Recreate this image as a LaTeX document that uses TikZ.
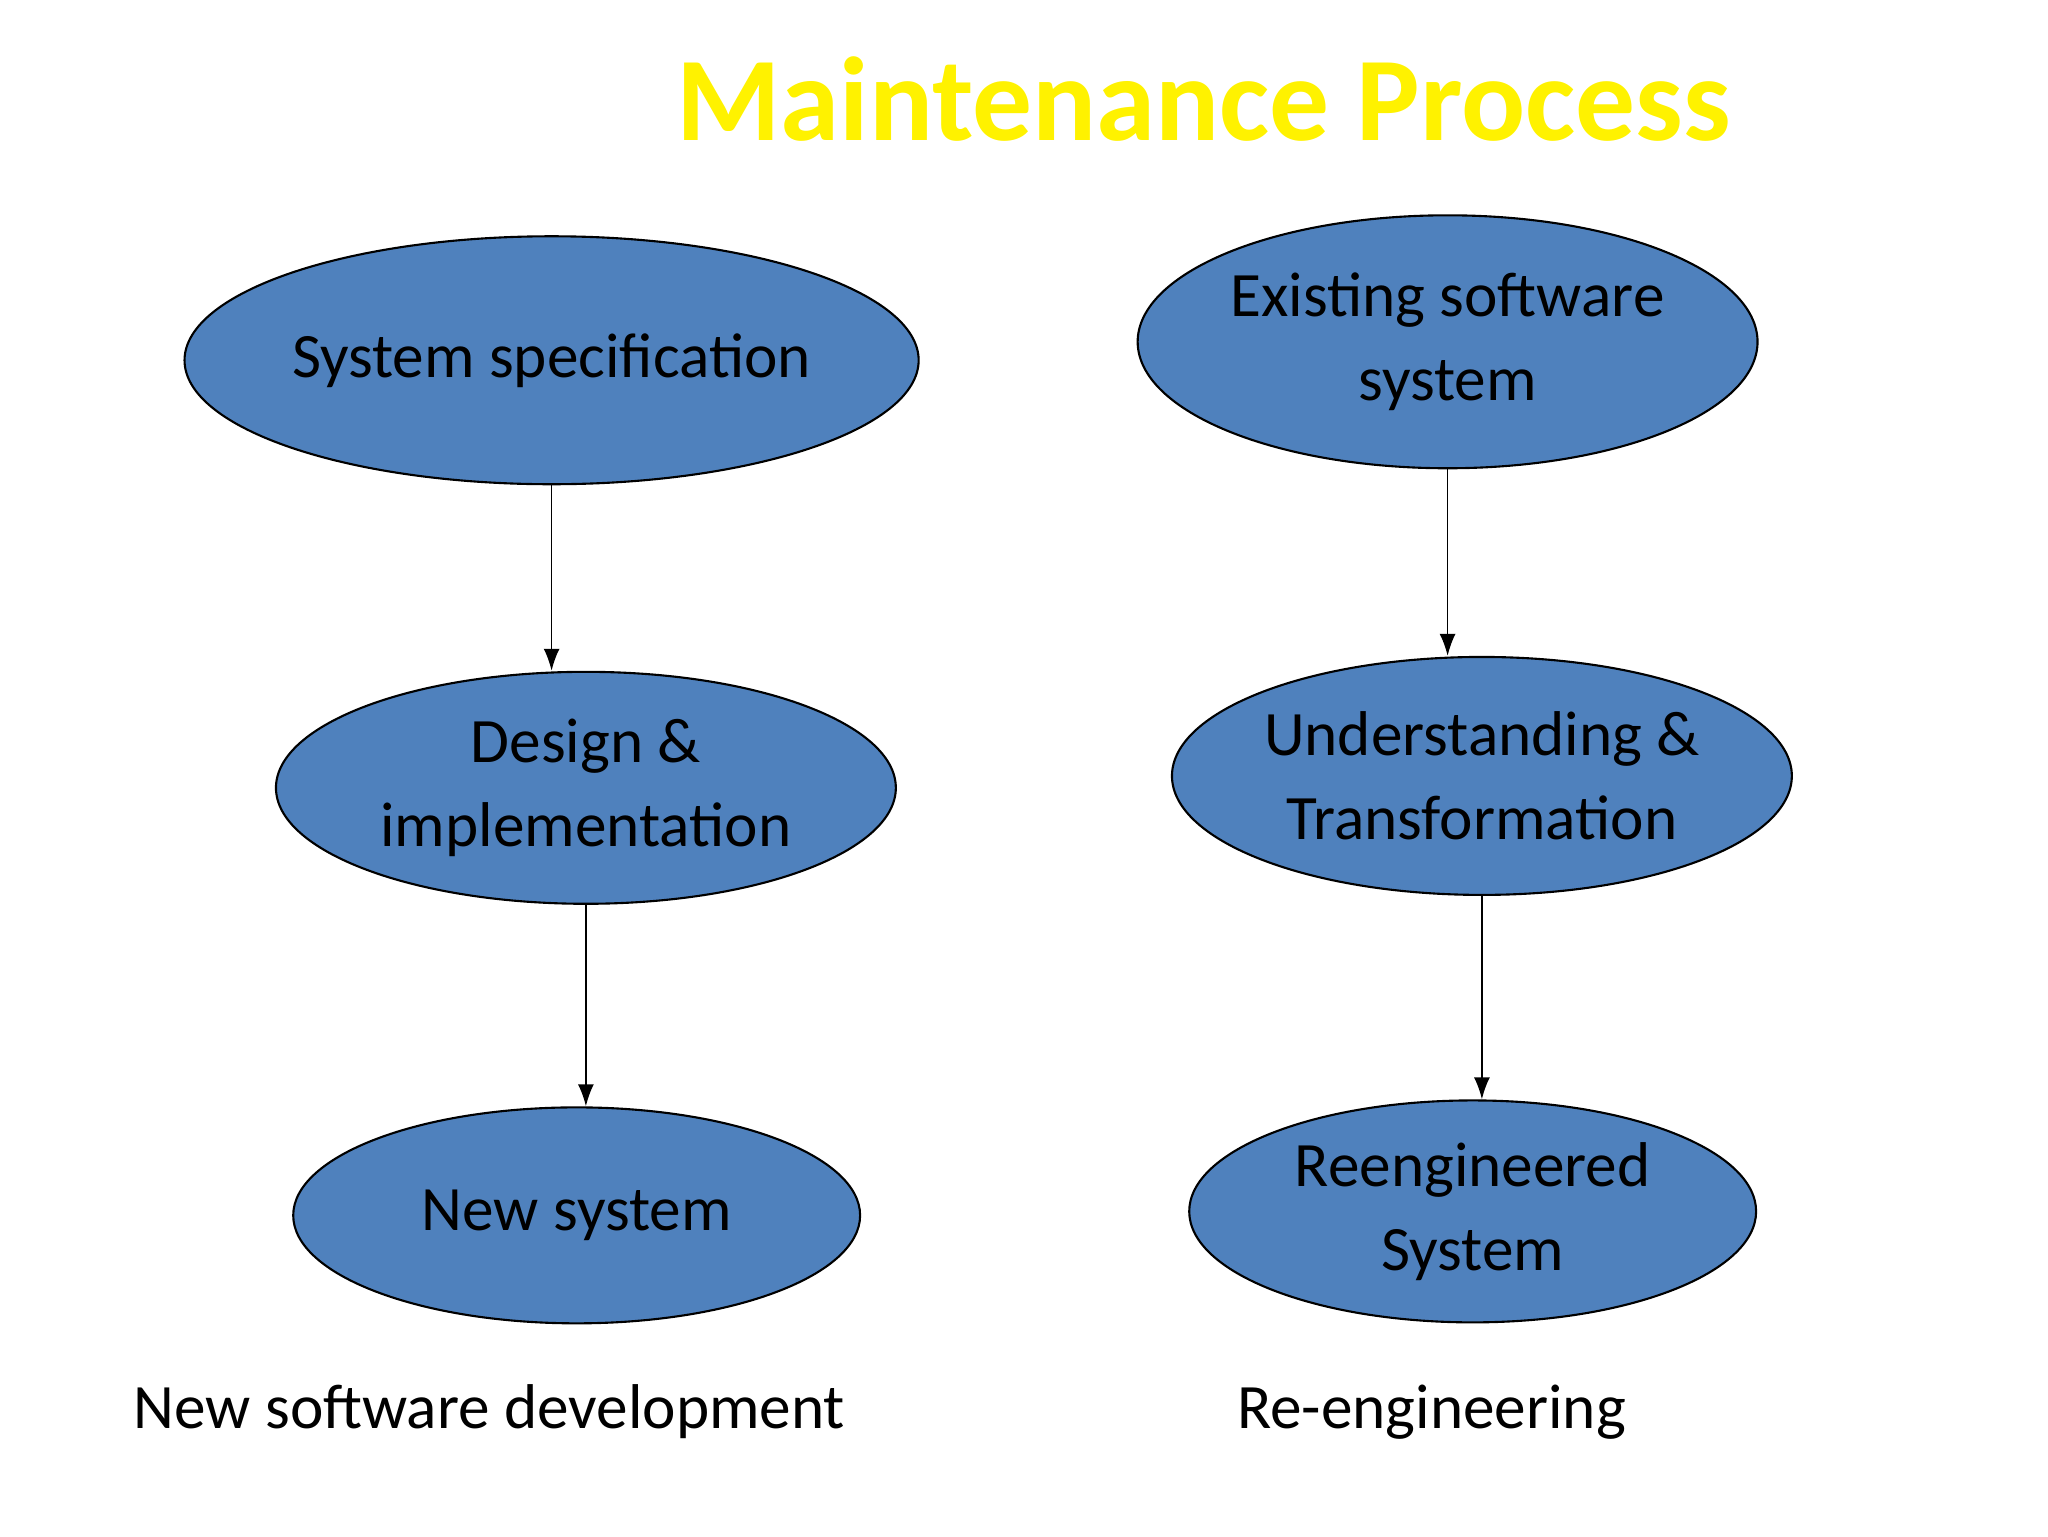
\documentclass[tikz,border=0pt]{standalone}
\usepackage{fontspec}
\setmainfont{Carlito}
\usetikzlibrary{shapes.geometric,arrows.meta}
\definecolor{ebl}{HTML}{4F81BD}
\tikzset{
 ell/.style={ellipse,draw=black,fill=ebl,inner sep=0pt,align=center,font=\fontsize{18}{24}\selectfont,line width=0.6pt},
 arr/.style={-{Latex[length=2.2mm,width=1.6mm]},line width=0.5pt},
 lbl/.style={font=\fontsize{18}{22}\selectfont,anchor=west}
}
\begin{document}
\begin{tikzpicture}[x=0.013196cm,y=-0.013196cm]
\useasboundingbox (0,0) rectangle (1552,1164);
\node[font=\bfseries\fontsize{34}{40}\selectfont,text=yellow] (t) at (912,75) {Maintenance Process};
\node[ell,minimum width=6.20cm,minimum height=2.48cm] (a) at (418,273) {System specification};
\node[ell,minimum width=6.20cm,minimum height=2.32cm] (b) at (444,597) {Design \&\\ implementation};
\node[ell,minimum width=5.67cm,minimum height=2.16cm] (c) at (437,921) {New system};
\node[ell,minimum width=6.20cm,minimum height=2.53cm] (d) at (1097,259) {Existing software\\ system};
\node[ell,minimum width=6.20cm,minimum height=2.38cm] (e) at (1123,588) {Understanding \&\\ Transformation};
\node[ell,minimum width=5.67cm,minimum height=2.22cm] (f) at (1116,918) {Reengineered\\ System};
\draw[arr] (a.south) -- (a.south |- b.north);
\draw[arr] (b.south) -- (b.south |- c.north);
\draw[arr] (d.south) -- (d.south |- e.north);
\draw[arr] (e.south) -- (e.south |- f.north);
\node[lbl] (l1) at (92,1070) {New software development};
\node[lbl] (l2) at (928,1070) {Re-engineering};
\end{tikzpicture}
\end{document}
